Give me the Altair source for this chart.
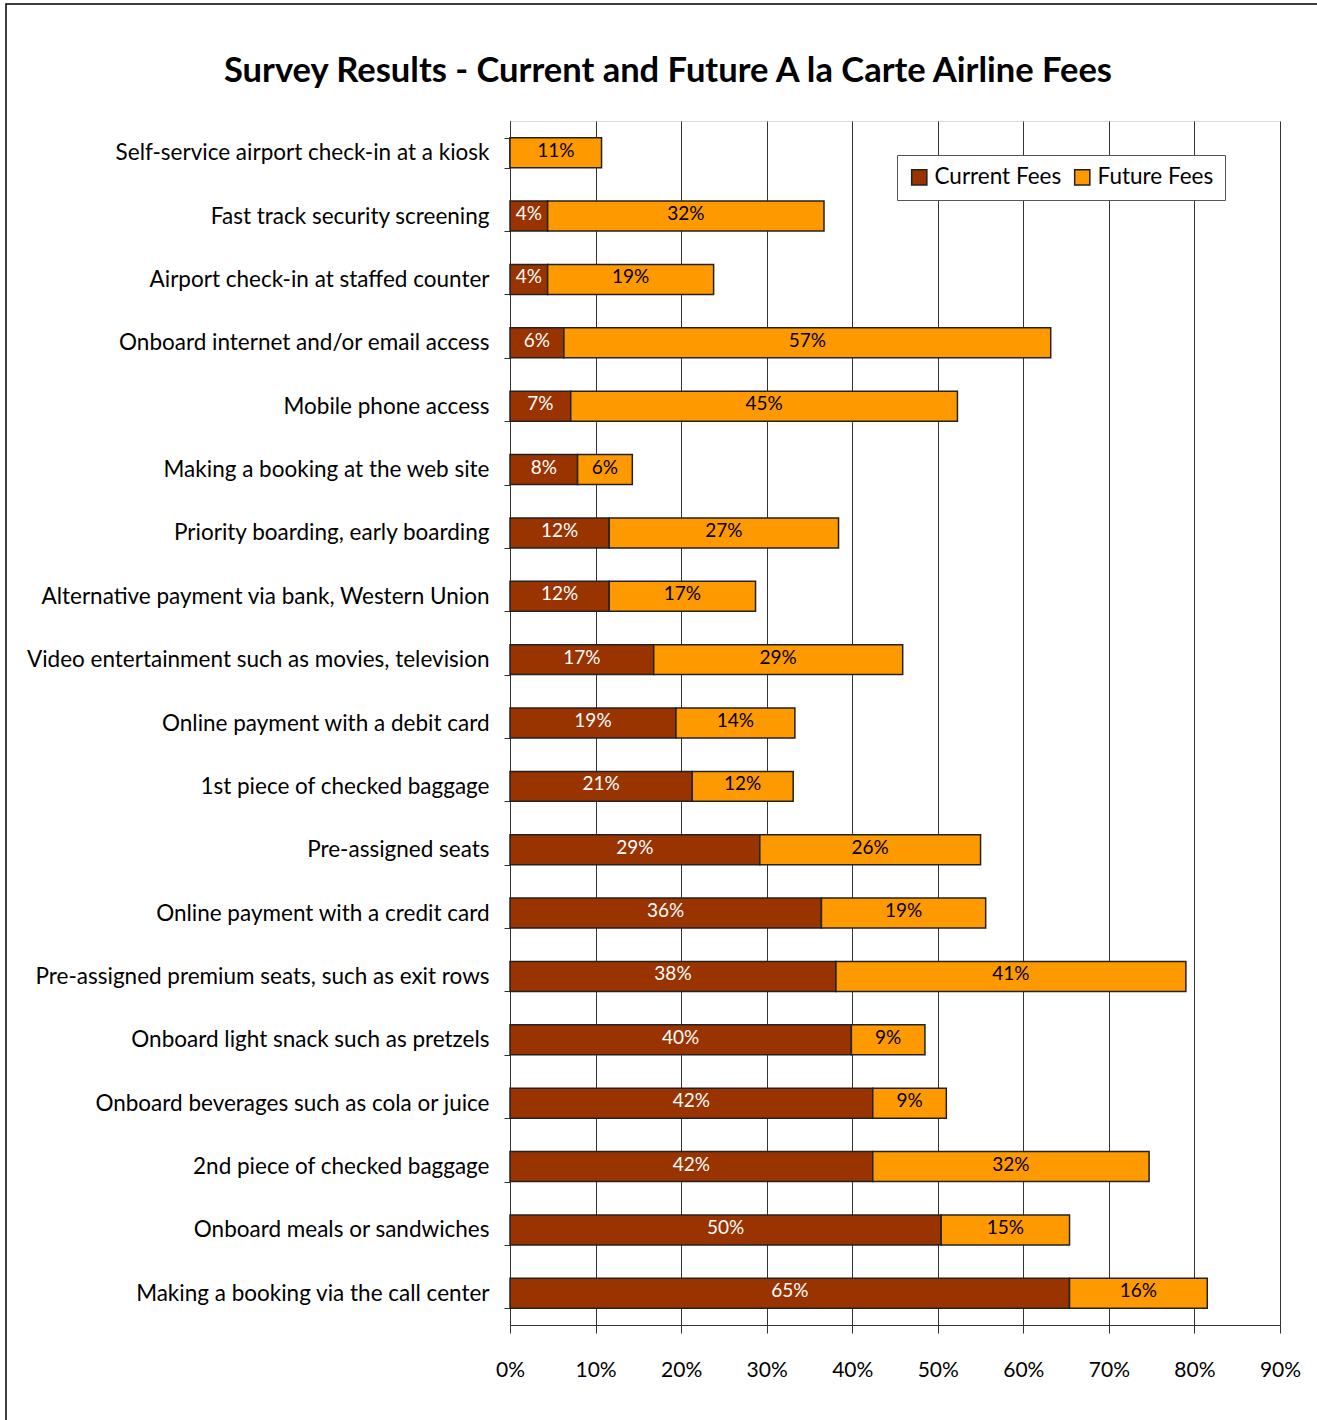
import altair as alt
import pandas as pd

categories = [
    "Self-service airport check-in at a kiosk",
    "Fast track security screening",
    "Airport check-in at staffed counter",
    "Onboard internet and/or email access",
    "Mobile phone access",
    "Making a booking at the web site",
    "Priority boarding, early boarding",
    "Alternative payment via bank, Western Union",
    "Video entertainment such as movies, television",
    "Online payment with a debit card",
    "1st piece of checked baggage",
    "Pre-assigned seats",
    "Online payment with a credit card",
    "Pre-assigned premium seats, such as exit rows",
    "Onboard light snack such as pretzels",
    "Onboard beverages such as cola or juice",
    "2nd piece of checked baggage",
    "Onboard meals or sandwiches",
    "Making a booking via the call center",
]
current = [0, 4.4, 4.4, 6.3, 7.1, 7.9, 11.6, 11.6, 16.8, 19.4, 21.3, 29.2, 36.4, 38.1, 39.9, 42.4, 42.4, 50.4, 65.4]
future = [10.7, 32.3, 19.4, 56.9, 45.2, 6.4, 26.8, 17.1, 29.1, 13.9, 11.8, 25.8, 19.2, 40.9, 8.6, 8.6, 32.3, 15.0, 16.1]
series_names = ["Current Fees", "Future Fees"]
series_colors = ["#993300", "#FF9900"]

rows = []
for i, c in enumerate(categories):
    rows.append({"category": c, "series": series_names[0], "order": 0, "value": current[i] / 100})
    rows.append({"category": c, "series": series_names[1], "order": 1, "value": future[i] / 100})
df = pd.DataFrame(rows)

FONT = "Lato"

base = alt.Chart(df).transform_stack(
    stack="value", groupby=["category"], sort=[alt.SortField("order")], as_=["x0", "x1"]
).transform_calculate(
    mid="(datum.x0 + datum.x1) / 2",
    label="format(datum.value, '.0%')",
)

y_enc = alt.Y(
    "category:N",
    sort=categories,
    title=None,
    scale=alt.Scale(paddingInner=0.527, paddingOuter=0.2635),
    axis=alt.Axis(
        tickBand="extent", tickSize=6, tickColor="#333", domainColor="#333",
        labelFontSize=22.5, labelFont=FONT, labelColor="black", labelPadding=15,
        labelLimit=600, grid=False,
    ),
)

x_scale = alt.Scale(domain=[0, 0.9], nice=False)

bars = base.mark_bar(stroke="#222", strokeWidth=1.5).encode(
    y=y_enc,
    x=alt.X(
        "x0:Q", scale=x_scale, title=None,
        axis=alt.Axis(
            format=".0%", values=[i / 10 for i in range(10)], tickSize=8, tickColor="#333",
            domainColor="#333", grid=True, gridColor="#333", gridWidth=1,
            labelFontSize=21, labelFont=FONT, labelColor="black", labelPadding=26,
            labelFlush=False,
        ),
    ),
    x2="x1:Q",
    color=alt.Color(
        "series:N",
        scale=alt.Scale(domain=series_names, range=series_colors),
        legend=alt.Legend(
            title=None, orient="none", legendX=387, legendY=34, direction="horizontal",
            fillColor="white", strokeColor="#555", padding=11,
            labelFontSize=22.5, labelFont=FONT, labelColor="black",
            symbolType="square", symbolSize=230, symbolStrokeColor="#222",
            symbolStrokeWidth=1.5, columnPadding=9,
        ),
    ),
)

texts = base.transform_filter("datum.value > 0").mark_text(
    fontSize=19, font=FONT, baseline="middle", align="center", dy=-2
).encode(
    y=alt.Y("category:N", sort=categories),
    x=alt.X("mid:Q", scale=x_scale),
    text="label:N",
    color=alt.condition("datum.series == 'Current Fees'", alt.value("white"), alt.value("black")),
)

frame = alt.Chart(alt.Data(values=[{"a": 1}])).mark_rect(
    fillOpacity=0, stroke="black", strokeWidth=1.5
).encode(
    x=alt.value(-504), x2=alt.value(820), y=alt.value(-117), y2=alt.value(1320)
)

chart = alt.layer(frame, bars, texts).properties(
    width=770,
    height=1204,
    padding={"left": 510, "top": 121, "right": 37, "bottom": 95},
    autosize=alt.AutoSizeParams(type="none"),
    title=alt.TitleParams(
        "Survey Results - Current and Future A la Carte Airline Fees",
        fontSize=34.5, font=FONT, fontWeight="bold", color="black",
        anchor="middle", offset=-86, dx=-227,
    ),
).configure_view(stroke="#888", strokeWidth=1).configure(background="white")

chart.save("out.html", embed_options={"renderer": "svg", "actions": False})
